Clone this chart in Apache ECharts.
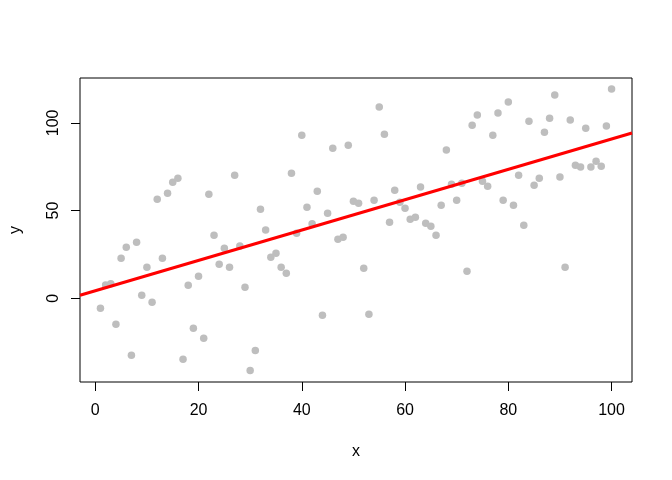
<!DOCTYPE html>
<html>
<head>
<meta charset="utf-8">
<script src="https://cdn.jsdelivr.net/npm/echarts@6/dist/echarts.min.js"></script>
<style>html,body{margin:0;padding:0;background:#fff}#c{width:672px;height:480px}</style>
</head>
<body>
<div id="c"></div>
<script>
const xValues = [1,2,3,4,5,6,7,8,9,10,11,12,13,14,15,16,17,18,19,20,21,22,23,24,25,26,27,28,29,30,31,32,33,34,35,36,37,38,39,40,41,42,43,44,45,46,47,48,49,50,51,52,53,54,55,56,57,58,59,60,61,62,63,64,65,66,67,68,69,70,71,72,73,74,75,76,77,78,79,80,81,82,83,84,85,86,87,88,89,90,91,92,93,94,95,96,97,98,99,100];
const yValues = [-5.7,7.6,8.3,-14.8,22.8,29.1,-32.5,32.0,1.7,17.7,-2.3,56.5,22.8,59.9,66.2,68.5,-34.8,7.4,-17.1,12.6,-22.8,59.4,36.0,19.4,28.5,17.7,70.2,29.9,6.3,-41.1,-29.7,50.8,39.0,23.4,25.7,17.7,14.3,71.3,37.1,93.0,51.9,42.5,61.1,-9.7,48.5,85.6,33.7,34.8,87.3,55.4,54.2,17.1,-9.1,55.9,109.0,93.6,43.4,61.6,54.8,51.4,45.1,46.2,63.4,42.8,41.1,36.0,53.1,84.5,65.1,55.9,65.6,15.4,98.7,104.5,66.8,63.9,93.0,105.6,55.9,111.9,53.1,70.2,41.7,101.0,64.5,68.5,94.7,102.7,115.9,69.1,17.7,101.6,75.9,74.8,97.0,74.8,78.2,75.3,98.2,119.3];
const xTicks = [0,20,40,60,80,100];
const yTicks = [0,50,100];
const xRange = [-2.96, 103.96];
const yRange = [-47.7, 125.6];
const lineIntercept = 4.3;
const lineSlope = 0.865;

const points = xValues.map((x,i)=>[x, yValues[i]]);
const lineData = xRange.map(x=>[x, lineIntercept + lineSlope*x]);
const font = "'Liberation Sans', Arial, sans-serif";

const chart = echarts.init(document.getElementById('c'), null, {renderer:'canvas'});
chart.setOption({
  animation:false,
  backgroundColor:'#fff',
  grid:{left:78,top:78,width:554,height:304,show:true,borderColor:'#000',borderWidth:1,backgroundColor:'transparent',containLabel:false},
  xAxis:{type:'value',min:xRange[0],max:xRange[1],position:'bottom',
    name:'x',nameLocation:'middle',nameGap:62,
    nameTextStyle:{fontFamily:font,fontSize:16,color:'#000'},
    axisLine:{show:false,onZero:false},splitLine:{show:false},
    axisTick:{show:true,inside:false,length:9,customValues:xTicks,lineStyle:{color:'#000',width:1}},
    axisLabel:{show:true,margin:21,customValues:xTicks,fontFamily:font,fontSize:16,color:'#000'}},
  yAxis:{type:'value',min:yRange[0],max:yRange[1],position:'left',
    name:'y',nameLocation:'middle',nameGap:56,nameRotate:90,
    nameTextStyle:{fontFamily:font,fontSize:16,color:'#000'},
    axisLine:{show:false,onZero:false},splitLine:{show:false},
    axisTick:{show:true,inside:false,length:9,customValues:yTicks,lineStyle:{color:'#000',width:1}},
    axisLabel:{show:true,margin:18,rotate:90,customValues:yTicks,fontFamily:font,fontSize:16,color:'#000'}},
  series:[
    {type:'scatter',data:points,symbol:'circle',symbolSize:7.5,itemStyle:{color:'#BEBEBE',opacity:1},z:2},
    {type:'line',data:lineData,showSymbol:false,symbol:'none',clip:true,lineStyle:{color:'#FF0000',width:3},z:3}
  ]
});
</script>
</body>
</html>
